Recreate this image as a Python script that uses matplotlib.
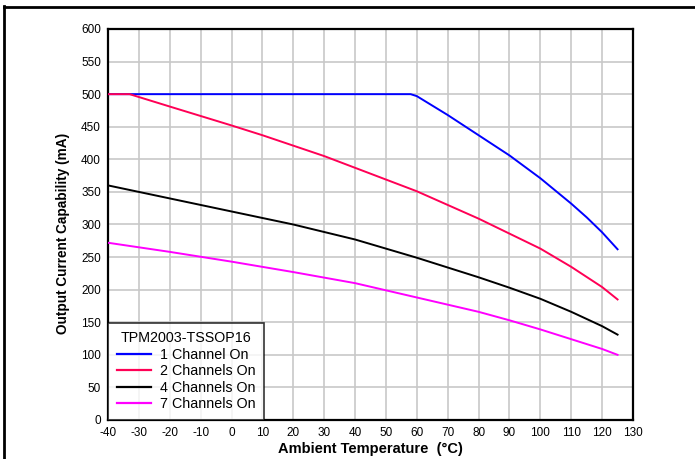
import matplotlib.pyplot as plt
from matplotlib.lines import Line2D

plt.rcParams['font.family'] = ['Liberation Sans', 'DejaVu Sans']
plt.rcParams['axes.unicode_minus'] = False

# ── Data ─────────────────────────────────────────────────────────────────────
t_1ch = [-40, 58, 60, 70, 80, 90, 100, 110, 115, 120, 125]
i_1ch = [500, 500, 497, 468, 437, 406, 371, 332, 311, 288, 262]

t_2ch = [-40, -33, -20, 0, 10, 20, 30, 40, 50, 60, 70, 80, 90, 100, 110, 120, 125]
i_2ch = [500, 500, 481, 452, 437, 421, 405, 387, 369, 351, 330, 309, 286, 263, 235, 204, 185]

t_4ch = [-40, -20, 0, 20, 40, 50, 60, 70, 80, 90, 100, 110, 120, 125]
i_4ch = [360, 340, 320, 300, 277, 263, 249, 234, 219, 203, 186, 166, 144, 131]

t_7ch = [-40, -20, 0, 20, 40, 60, 80, 90, 100, 110, 120, 125]
i_7ch = [272, 258, 243, 227, 210, 188, 166, 153, 139, 124, 109, 100]

labels = ["1 Channel On", "2 Channels On", "4 Channels On", "7 Channels On"]
colours = ["#0000FF", "#FF0055", "#000000", "#FF00FF"]

x_ticks = list(range(-40, 131, 10))
y_ticks = list(range(0, 601, 50))

# ── Figure ───────────────────────────────────────────────────────────────────
fig = plt.figure(figsize=(6.95, 4.59), dpi=100, facecolor="white")
ax = fig.add_axes([108 / 695, 1 - 420 / 459, 525 / 695, 391 / 459])

series = [(t_1ch, i_1ch), (t_2ch, i_2ch), (t_4ch, i_4ch), (t_7ch, i_7ch)]
for (t, i), c, lab in zip(series, colours, labels):
    ax.plot(t, i, color=c, linewidth=1.4, label=lab, zorder=3,
            solid_joinstyle="round")

ax.set_xlim(-40, 130)
ax.set_ylim(0, 600)
ax.set_xticks(x_ticks)
ax.set_yticks(y_ticks)
ax.tick_params(length=0, labelsize=8.5, pad=5)
ax.grid(True, color="#c8c8c8", linewidth=1.2, zorder=0)
ax.set_axisbelow(True)
for s in ax.spines.values():
    s.set_linewidth(1.6)
    s.set_color("black")

ax.set_xlabel("Ambient Temperature  (°C)", fontsize=10.5, fontweight="bold", labelpad=2)
ax.set_ylabel("Output Current Capability (mA)", fontsize=9.8, fontweight="bold")
ax.yaxis.set_label_coords(-0.072, 0.478)

handles = [Line2D([], [], color=c, linewidth=1.6) for c in colours]
leg = ax.legend(handles, labels, title="TPM2003-TSSOP16", loc="lower left",
                bbox_to_anchor=(0, 0), borderaxespad=0, fontsize=10.3,
                title_fontsize=10.3, frameon=True, fancybox=False,
                handlelength=2.4, handletextpad=0.6, labelspacing=0.18,
                borderpad=0.6)
leg.get_frame().set_edgecolor("black")
leg.get_frame().set_linewidth(1.2)
leg.set_zorder(5)

# outer border lines (left and top)
fig.add_artist(Line2D([4 / 695, 4 / 695], [0, 1 - 6 / 459], color="black",
                      linewidth=2, transform=fig.transFigure))
fig.add_artist(Line2D([4 / 695, 1], [1 - 6.5 / 459, 1 - 6.5 / 459], color="black",
                      linewidth=2, transform=fig.transFigure))

fig.savefig("out.png", dpi=100, facecolor="white")
